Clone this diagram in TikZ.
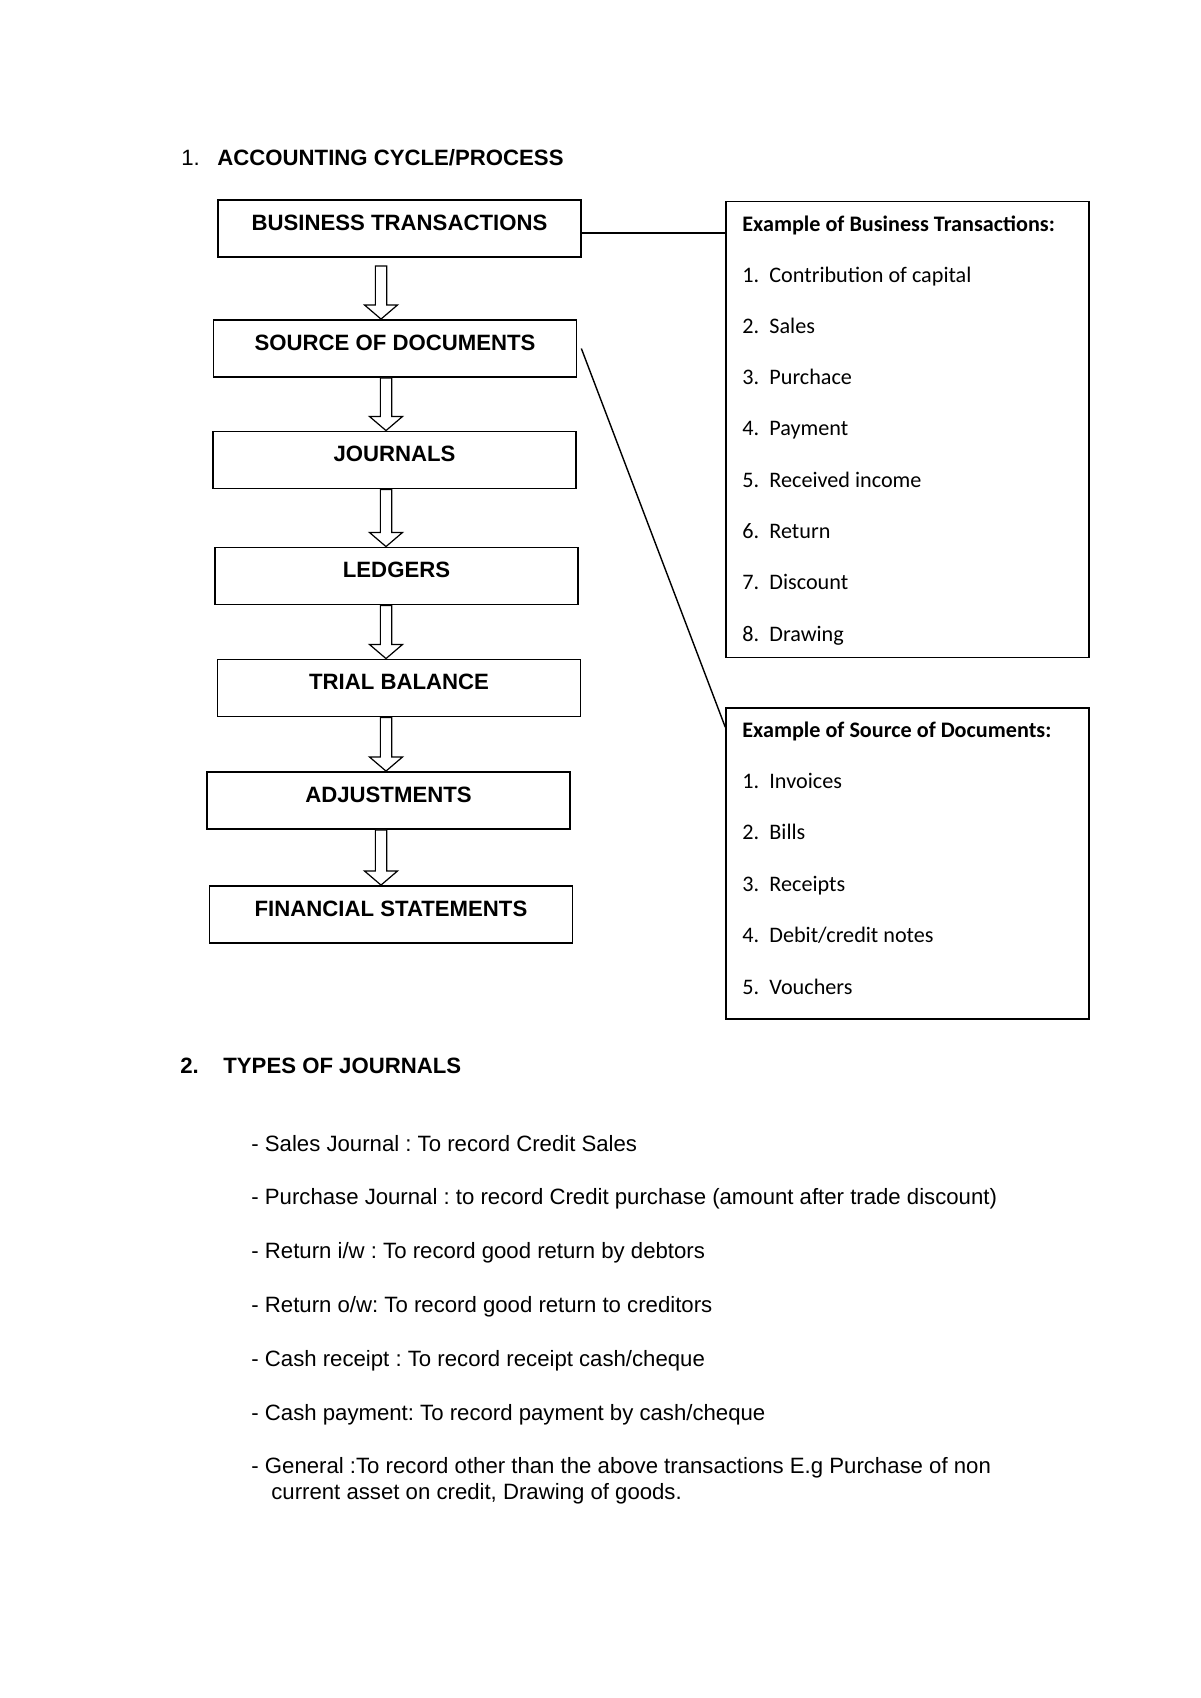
\documentclass[tikz,border=0pt]{standalone}
\usepackage{fontspec}
\setmainfont{Liberation Sans}
\newfontfamily\calibri{Carlito}
\usetikzlibrary{calc}
\tikzset{>=latex}
\frenchspacing
\newcommand{\elf}{\fontsize{11}{13.2}\selectfont}
% hollow block arrow between two boxes, at a given x, with a gap below the upper box
\newcommand{\blockarrow}[4]{%
  \draw[line width=0.6pt, fill=white] let \p1=(#1.south), \p2=(#2.north), \p3=(#3,0) in
    (\x3-2.8pt,\y1-#4) -- (\x3-2.8pt,\y2+7pt) -- (\x3-8.2pt,\y2+7pt) -- (\x3,\y2)
    -- (\x3+8.2pt,\y2+7pt) -- (\x3+2.8pt,\y2+7pt) -- (\x3+2.8pt,\y1-#4) -- cycle;}

\begin{document}
\begin{tikzpicture}[x=0.4961pt, y=-0.4961pt,
  stepbox/.style={draw, line width=0.9pt, minimum width=180pt, inner xsep=0pt, inner ysep=0pt,
    text height=15pt, text depth=13.3pt, font=\elf\bfseries},
  examplebox/.style={draw, line width=0.8pt, minimum width=180pt, inner sep=0pt},
  itemtext/.style={anchor=base west, inner sep=0pt, font=\elf\calibri},
  plaintext/.style={anchor=base west, inner sep=0pt, font=\elf}]
  \useasboundingbox (0,0) rectangle (1200,1698);

  % heading 1
  \node[plaintext] (num1) at (181,165) {1.};
  \node[plaintext, font=\elf\bfseries] (head1) at (217,165) {ACCOUNTING CYCLE/PROCESS};

  % the cycle
  \node[stepbox] (bt) at (399.5,228.5) {BUSINESS TRANSACTIONS};
  \node[stepbox] (sd) at (395,348.5) {SOURCE OF DOCUMENTS};
  \node[stepbox] (jn) at (394.5,460) {JOURNALS};
  \node[stepbox] (lg) at (396.5,576) {LEDGERS};
  \node[stepbox] (tb) at (399,688) {TRIAL BALANCE};
  \node[stepbox] (adj) at (388.5,800.5) {ADJUSTMENTS};
  \node[stepbox] (fs) at (391,914.5) {FINANCIAL STATEMENTS};

  \blockarrow{bt}{sd}{381}{4pt}
  \blockarrow{sd}{jn}{386}{0pt}
  \blockarrow{jn}{lg}{386}{0pt}
  \blockarrow{lg}{tb}{386}{0pt}
  \blockarrow{tb}{adj}{386}{0pt}
  \blockarrow{adj}{fs}{381}{0pt}

  % example boxes
  \node[examplebox, minimum height=226.2pt] (ex1) at (907.5,429.5) {};
  \node[examplebox, minimum height=154.3pt] (ex2) at (907.5,863.5) {};

  \node[itemtext, font=\elf\calibri\bfseries] (ex1h) at (742,231) {Example of Business Transactions:};
  \foreach \txt [count=\n] in {Contribution of capital, Sales, Purchace, Payment, Received income, Return, Discount, Drawing}
    \node[itemtext] (ex1i\n) at (742,{282+51.3*(\n-1)}) {\makebox[13.4pt][l]{\n.}\txt};

  \node[itemtext, font=\elf\calibri\bfseries] (ex2h) at (742,737) {Example of Source of Documents:};
  \foreach \txt [count=\n] in {Invoices, Bills, Receipts, Debit/credit notes, Vouchers}
    \node[itemtext] (ex2i\n) at (742,{788+51.5*(\n-1)}) {\makebox[13.4pt][l]{\n.}\txt};

  % links to the examples
  \coordinate (btlink) at ($(bt.east)+(0,4.5)$);
  \draw[line width=0.7pt] (btlink) -- (btlink -| ex1.west);
  \draw[line width=0.7pt] ([xshift=2pt]sd.east) -- ($(ex2.north west)+(0,20)$);

  % heading 2
  \node[plaintext, font=\elf\bfseries] (num2) at (180,1073) {2.};
  \node[plaintext, font=\elf\bfseries] (head2) at (223,1073) {TYPES OF JOURNALS};

  \foreach \txt [count=\n] in {- Sales Journal : To record Credit Sales,
      - Purchase Journal : to record Credit purchase (amount after trade discount),
      - Return i/w : To record good return by debtors,
      - Return o/w: To record good return to creditors,
      - Cash receipt : To record receipt cash/cheque,
      - Cash payment: To record payment by cash/cheque,
      - General :To record other than the above transactions E.g Purchase of non}
    \node[plaintext] (jl\n) at (251,{1151+53.8*(\n-1)}) {\txt};
  \node[plaintext] (jl8) at (271,1499) {current asset on credit, Drawing of goods.};
\end{tikzpicture}
\end{document}
